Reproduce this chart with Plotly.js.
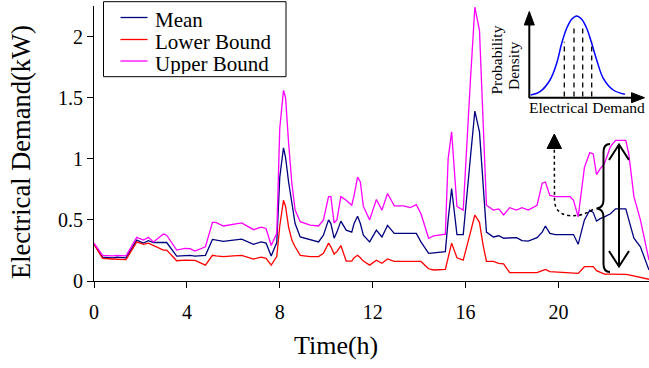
<!DOCTYPE html>
<html>
<head>
<meta charset="utf-8">
<script src="https://cdn.plot.ly/plotly-3.0.1.min.js"></script>
<style>html,body{margin:0;padding:0;background:#fff;}#chart{width:649px;height:368px;}</style>
</head>
<body>
<div id="chart"></div>
<script>
// ---- data ----
const timeH = [0, 0.37, 0.8, 1.0, 1.38, 1.84, 2.13, 2.34, 2.56, 2.99, 3.13, 3.56, 3.92, 4.14, 4.35, 4.8, 5.1, 5.25, 5.57, 6.0,
  6.36, 6.87, 7.2, 7.41, 7.63, 7.87, 8.0, 8.16, 8.25, 8.38, 8.52, 8.66, 8.88, 9.31, 9.67, 9.88, 10.1, 10.2, 10.34, 10.46,
  10.63, 10.86, 11.1, 11.2, 11.35, 11.47, 11.6, 11.87, 12.16, 12.4, 12.64, 12.93, 13.33, 13.62, 13.88, 14.08, 14.41, 14.63, 15.13, 15.25,
  15.4, 15.63, 15.9, 16.2, 16.4, 16.6, 16.75, 16.9, 17.2, 17.43, 17.64, 17.9, 18.2, 18.43, 18.7, 19.08, 19.3, 19.44, 19.63, 19.87,
  20.5, 20.65, 20.85, 21.12, 21.35, 21.5, 21.64, 21.8, 21.98, 22.24, 22.46, 22.9, 23.03, 23.25, 23.53, 23.9];

const upperBound = [0.31, 0.21, 0.205, 0.21, 0.205, 0.357, 0.335, 0.357, 0.32, 0.384, 0.375, 0.253, 0.267, 0.265, 0.245, 0.28, 0.48, 0.48, 0.45, 0.465,
  0.476, 0.42, 0.44, 0.43, 0.29, 0.39, 1.25, 1.56, 1.50, 1.13, 0.80, 0.58, 0.485, 0.457, 0.45, 0.50, 0.69, 0.69, 0.476, 0.50,
  0.69, 0.66, 0.62, 0.70, 0.85, 0.81, 0.61, 0.50, 0.667, 0.58, 0.716, 0.615, 0.615, 0.60, 0.625, 0.55, 0.35, 0.37, 0.384, 1.0,
  1.22, 0.61, 0.58, 1.61, 2.24, 2.05, 1.30, 0.62, 0.58, 0.59, 0.54, 0.60, 0.58, 0.60, 0.58, 0.62, 0.80, 0.81, 0.70, 0.69,
  0.69, 0.66, 0.525, 0.93, 1.05, 1.04, 0.87, 0.92, 0.96, 1.10, 1.15, 1.15, 1.04, 0.69, 0.50, 0.17];

const meanDemand = [0.30, 0.195, 0.19, 0.195, 0.19, 0.335, 0.31, 0.33, 0.315, 0.315, 0.315, 0.204, 0.21, 0.21, 0.204, 0.21, 0.34, 0.335, 0.324, 0.335,
  0.343, 0.30, 0.32, 0.31, 0.204, 0.315, 0.85, 1.09, 1.01, 0.81, 0.64, 0.47, 0.36, 0.335, 0.32, 0.375, 0.50, 0.47, 0.35, 0.40,
  0.49, 0.416, 0.40, 0.47, 0.53, 0.47, 0.375, 0.32, 0.416, 0.36, 0.455, 0.39, 0.39, 0.39, 0.39, 0.32, 0.226, 0.23, 0.24, 0.50,
  0.757, 0.38, 0.38, 0.99, 1.39, 1.22, 0.80, 0.40, 0.36, 0.37, 0.35, 0.355, 0.355, 0.33, 0.326, 0.355, 0.40, 0.45, 0.39, 0.38,
  0.38, 0.38, 0.30, 0.50, 0.58, 0.56, 0.49, 0.51, 0.525, 0.55, 0.59, 0.59, 0.50, 0.35, 0.28, 0.09];

const lowerBound = [0.30, 0.185, 0.18, 0.18, 0.175, 0.32, 0.30, 0.31, 0.29, 0.253, 0.253, 0.166, 0.17, 0.17, 0.168, 0.13, 0.21, 0.205, 0.20, 0.205,
  0.21, 0.18, 0.195, 0.185, 0.13, 0.20, 0.45, 0.66, 0.61, 0.44, 0.335, 0.28, 0.21, 0.20, 0.20, 0.226, 0.31, 0.28, 0.22, 0.24,
  0.29, 0.163, 0.163, 0.19, 0.21, 0.19, 0.163, 0.13, 0.17, 0.145, 0.18, 0.16, 0.16, 0.16, 0.16, 0.16, 0.10, 0.09, 0.095, 0.20,
  0.31, 0.19, 0.17, 0.39, 0.54, 0.48, 0.30, 0.16, 0.16, 0.145, 0.14, 0.068, 0.068, 0.068, 0.068, 0.068, 0.085, 0.095, 0.077, 0.075,
  0.07, 0.065, 0.062, 0.117, 0.117, 0.117, 0.085, 0.07, 0.057, 0.057, 0.057, 0.055, 0.05, 0.04, 0.03, 0.014];

const seriesNames = ['Mean', 'Lower Bound', 'Upper Bound'];
const xTicks = [0, 4, 8, 12, 16, 20];
const yTicks = [0, 0.5, 1, 1.5, 2];
const yTickText = ['0', '0.5', '1', '1.5', '2'];

// inset schematic (probability density sketch)
const insetDemand = [1.7, 11, 21, 27.7, 32.7, 37.7, 42.7, 47.7, 52.7, 57.7, 62.7, 67.7, 74.3, 84.3, 96];
const insetDensity = [3, 6.3, 18, 34.7, 54.7, 69.7, 78.7, 82, 78.7, 69.7, 54.7, 38, 19.7, 8, 3.7];
const insetCuts = [35.3, 45, 53.7, 62.7];
const insetCutTops = [56.3, 71.3, 71.3, 56.3];

// ---- styling ----
const W = 649, H = 368, ML = 94, MR = 0, MT = 6, MB = 87;
const PW = W - ML - MR, PH = H - MT - MB;
const colMean = '#000080', colLower = '#ff0000', colUpper = '#ff00ff';
const FONT = 'Liberation Serif, Times New Roman, serif';

function px(x) { return (x - ML) / PW; }
function py(y) { return (H - MB - y) / PH; }
function path(cmds) {
  // cmds: [letter, x1, y1, x2, y2 ...] in pixel space -> paper-space SVG path
  return cmds.map(c => {
    const pts = [];
    for (let i = 1; i < c.length; i += 2) pts.push(px(c[i]).toFixed(5) + ',' + py(c[i + 1]).toFixed(5));
    return c[0] + pts.join(' ');
  }).join(' ');
}

const traces = [
  { x: timeH, y: meanDemand, name: seriesNames[0], type: 'scatter', mode: 'lines', line: { color: colMean, width: 1.3 } },
  { x: timeH, y: lowerBound, name: seriesNames[1], type: 'scatter', mode: 'lines', line: { color: colLower, width: 1.3 } },
  { x: timeH, y: upperBound, name: seriesNames[2], type: 'scatter', mode: 'lines', line: { color: colUpper, width: 1.3 } },
  { x: insetDemand, y: insetDensity, xaxis: 'x2', yaxis: 'y2', type: 'scatter', mode: 'lines', name: 'pdf',
    line: { color: '#0000ff', width: 1.5, shape: 'spline' }, showlegend: false, hoverinfo: 'skip' }
];

const shapes = [];
// inset dashed cuts
insetCuts.forEach((c, i) => shapes.push({ type: 'line', xref: 'x2', yref: 'y2', x0: c, x1: c, y0: 1.5, y1: insetCutTops[i],
  line: { color: '#000', width: 1.3, dash: '5px,4px' } }));
// inset axes arrows
shapes.push({ type: 'path', xref: 'paper', yref: 'paper', path: path([['M', 529.3, 98], ['L', 529.3, 22]]), line: { color: '#000', width: 2 } });
shapes.push({ type: 'path', xref: 'paper', yref: 'paper', path: path([['M', 529.3, 11.5], ['L', 524.3, 25], ['L', 534.3, 25]]) + ' Z', fillcolor: '#000', line: { color: '#000', width: 1 } });
shapes.push({ type: 'path', xref: 'paper', yref: 'paper', path: path([['M', 529, 97.7], ['L', 634, 97.7]]), line: { color: '#000', width: 2 } });
shapes.push({ type: 'path', xref: 'paper', yref: 'paper', path: path([['M', 644.5, 97.7], ['L', 631.5, 92.7], ['L', 631.5, 102.7]]) + ' Z', fillcolor: '#000', line: { color: '#000', width: 1 } });
// dotted curved arrow
shapes.push({ type: 'path', xref: 'paper', yref: 'paper',
  path: path([['M', 593, 209.5], ['Q', 581, 217, 569, 215.5], ['Q', 555, 214, 554.5, 200], ['L', 554.3, 149]]),
  line: { color: '#000', width: 1.5, dash: 'dot' } });
shapes.push({ type: 'path', xref: 'paper', yref: 'paper', path: path([['M', 554.3, 134], ['L', 547, 148.5], ['L', 561.5, 148.5]]) + ' Z', fillcolor: '#000', line: { color: '#000', width: 1 } });
// curly brace
shapes.push({ type: 'path', xref: 'paper', yref: 'paper',
  path: path([['M', 610, 144], ['Q', 603.5, 144, 603.5, 152], ['L', 603.5, 200], ['Q', 603.5, 208, 596.5, 208.5],
    ['Q', 603.5, 209, 603.5, 217], ['L', 603.5, 264], ['Q', 603.5, 272, 610, 272]]),
  line: { color: '#000', width: 2 } });
// double arrow
shapes.push({ type: 'path', xref: 'paper', yref: 'paper', path: path([['M', 619, 144], ['L', 619, 267]]), line: { color: '#000', width: 2 } });
shapes.push({ type: 'path', xref: 'paper', yref: 'paper', path: path([['M', 609, 160], ['L', 619, 144.5], ['L', 629, 160]]), line: { color: '#000', width: 2 } });
shapes.push({ type: 'path', xref: 'paper', yref: 'paper', path: path([['M', 609, 251], ['L', 619, 266.5], ['L', 629, 251]]), line: { color: '#000', width: 2 } });
// legend box and samples
shapes.push({ type: 'rect', xref: 'paper', yref: 'paper', x0: px(103.5), x1: px(286), y0: py(1.7), y1: py(76.7),
  line: { color: '#000', width: 1 }, fillcolor: 'rgba(255,255,255,1)' });
const legendCols = [colMean, colLower, colUpper];
const legendY = [17.5, 39.5, 61];
legendCols.forEach((c, i) => shapes.push({ type: 'line', xref: 'paper', yref: 'paper', x0: px(120.5), x1: px(147.5), y0: py(legendY[i]), y1: py(legendY[i]),
  line: { color: c, width: 1.3 } }));

const annotations = [];
seriesNames.forEach((n, i) => annotations.push({ xref: 'paper', yref: 'paper', x: px(153), y: py(legendY[i] + 2), text: n, showarrow: false,
  xanchor: 'left', yanchor: 'middle', height: 21, valign: 'middle', font: { family: FONT, size: 21, color: '#000' } }));
// axis titles
annotations.push({ xref: 'paper', yref: 'paper', x: px(336), y: py(345), text: 'Time(h)', showarrow: false, xanchor: 'center', yanchor: 'middle',
  font: { family: FONT, size: 26, color: '#000' } });
annotations.push({ xref: 'paper', yref: 'paper', x: px(21), y: py(152), text: 'Electrical Demand(kW)', showarrow: false, textangle: -90,
  xanchor: 'center', yanchor: 'middle', font: { family: FONT, size: 26.5, color: '#000' } });
// inset labels
annotations.push({ xref: 'paper', yref: 'paper', x: px(495.5), y: py(60), text: 'Probability', showarrow: false, textangle: -90,
  xanchor: 'center', yanchor: 'middle', font: { family: FONT, size: 15.5, color: '#000' } });
annotations.push({ xref: 'paper', yref: 'paper', x: px(513.5), y: py(66.5), text: 'Density', showarrow: false, textangle: -90,
  xanchor: 'center', yanchor: 'middle', font: { family: FONT, size: 15.5, color: '#000' } });
annotations.push({ xref: 'paper', yref: 'paper', x: px(586.5), y: py(108), text: 'Electrical Demand', showarrow: false,
  xanchor: 'center', yanchor: 'middle', font: { family: FONT, size: 15.5, color: '#000' } });

const layout = {
  width: W, height: H,
  margin: { l: ML, r: MR, t: MT, b: MB, pad: 0 },
  paper_bgcolor: '#fff', plot_bgcolor: '#fff',
  showlegend: false,
  font: { family: FONT, color: '#000' },
  xaxis: {
    range: [0, 23.9], tickvals: xTicks, ticktext: xTicks.map(String),
    showline: true, linecolor: '#000', linewidth: 1, ticks: 'outside', ticklen: 6, tickcolor: '#000', tickwidth: 1,
    showgrid: false, zeroline: false, tickfont: { family: FONT, size: 20, color: '#000' }, ticklabelstandoff: 7
  },
  yaxis: {
    range: [0, 2.25], tickvals: yTicks, ticktext: yTickText,
    showline: true, linecolor: '#000', linewidth: 1, ticks: 'outside', ticklen: 6, tickcolor: '#000', tickwidth: 1,
    showgrid: false, zeroline: false, tickfont: { family: FONT, size: 20, color: '#000' }
  },
  xaxis2: { domain: [px(529), px(643)], range: [0, 114], anchor: 'y2', visible: false, fixedrange: true },
  yaxis2: { domain: [py(98), py(12)], range: [0, 86], anchor: 'x2', visible: false, fixedrange: true },
  shapes: shapes,
  annotations: annotations
};

Plotly.newPlot('chart', traces, layout, { displayModeBar: false, staticPlot: true });
</script>
</body>
</html>
